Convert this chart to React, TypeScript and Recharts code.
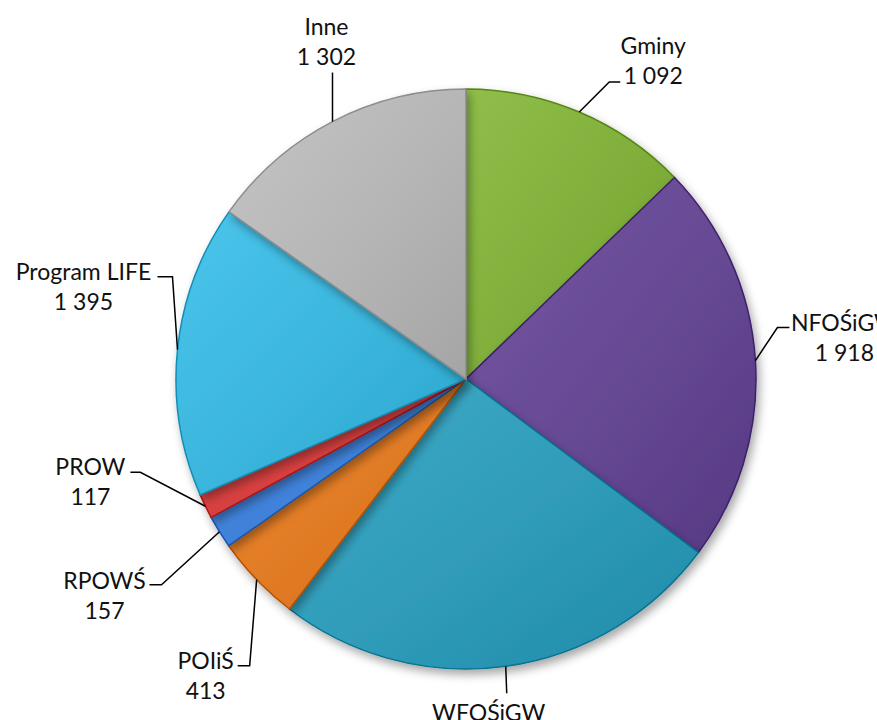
import React from "react";
import { PieChart, Pie, Cell } from "recharts";

// ── Data ──
const SOURCES = ["Gminy", "NFOŚiGW", "WFOŚiGW", "POIiŚ", "RPOWŚ", "PROW", "Program LIFE", "Inne"];
const AMOUNTS = [1092, 1918, 2156, 413, 157, 117, 1395, 1302];
const COLORS = ["#7fae3a", "#664893", "#2f9bb8", "#e07a24", "#3f80d8", "#d63f3f", "#3ab5dc", "#b5b5b5"];

// leader-line layout per slice: bend offset from slice edge, horizontal stub, text block offset from stub end
const LABEL_LAYOUT = [
  { bend: [30, -30], stub: 11, text: [33, -22] },
  { bend: [22, -33], stub: 12, text: [55, 9] },
  { bend: [1, 27], stub: 0, text: [-18, 34] },
  { bend: [-7, 86], stub: -12, text: [-32, 9] },
  { bend: [-58, 53], stub: -12, text: [-45, 10] },
  { bend: [-65, -34], stub: -10, text: [-40, 9] },
  { bend: [-5, -73], stub: -15, text: [-74, 9] },
  { bend: [0, -49], stub: 0, text: [-6, -32] },
];

const data = SOURCES.map((name, i) => ({ name, value: AMOUNTS[i] }));

const RAD = Math.PI / 180;
const FONT = "Lato, 'Open Sans', sans-serif";

function fmt(n: number) {
  return n.toString().replace(/\B(?=(\d{3})+(?!\d))/g, " ");
}

function shade(hex: string, amt: number) {
  const n = parseInt(hex.slice(1), 16);
  const ch = (v: number) => Math.max(0, Math.min(255, Math.round(v + amt)));
  const r = ch((n >> 16) & 255);
  const g = ch((n >> 8) & 255);
  const b = ch(n & 255);
  return `rgb(${r},${g},${b})`;
}

function renderLabel(props: any) {
  const { cx, cy, midAngle, outerRadius, index, name, value } = props;
  const lay = LABEL_LAYOUT[index];
  const ex = cx + outerRadius * Math.cos(-midAngle * RAD);
  const ey = cy + outerRadius * Math.sin(-midAngle * RAD);
  const bx = ex + lay.bend[0];
  const by = ey + lay.bend[1];
  const sx = bx + lay.stub;
  const tx = sx + lay.text[0];
  const ty = by + lay.text[1];
  return (
    <g key={`lbl-${index}`}>
      <polyline
        points={`${ex},${ey} ${bx},${by} ${sx},${by}`}
        fill="none"
        stroke="#000"
        strokeWidth={1.5}
      />
      <text
        x={tx}
        y={ty - 15}
        textAnchor="middle"
        dominantBaseline="central"
        fontFamily={FONT}
        fontSize={23}
        fill="#111"
      >
        {name}
      </text>
      <text
        x={tx}
        y={ty + 15}
        textAnchor="middle"
        dominantBaseline="central"
        fontFamily={FONT}
        fontSize={23}
        fill="#111"
      >
        {fmt(value)}
      </text>
    </g>
  );
}

export default function App() {
  return (
    <div style={{ position: "absolute", left: 0, top: 0, width: 877, height: 720, background: "#fff" }}>
      <PieChart width={877} height={720} margin={{ top: 0, right: 0, bottom: 0, left: 0 }}>
        <defs>
          <filter id="pieShadow" x="-20%" y="-20%" width="140%" height="140%">
            <feDropShadow dx="3" dy="5" stdDeviation="5" floodColor="#000" floodOpacity="0.35" />
          </filter>
          {COLORS.map((c, i) => (
            <linearGradient key={i} id={`grad${i}`} x1="0" y1="0" x2="1" y2="1">
              <stop offset="0%" stopColor={shade(c, 16)} />
              <stop offset="55%" stopColor={c} />
              <stop offset="100%" stopColor={shade(c, -16)} />
            </linearGradient>
          ))}
        </defs>
        <Pie
          data={data}
          dataKey="value"
          nameKey="name"
          cx={466}
          cy={379}
          outerRadius={290}
          startAngle={90}
          endAngle={-270}
          label={renderLabel}
          labelLine={false}
          isAnimationActive={false}
          style={{ filter: "url(#pieShadow)" }}
        >
          {data.map((d, i) => (
            <Cell key={d.name} fill={`url(#grad${i})`} stroke={shade(COLORS[i], -40)} strokeWidth={1.5} />
          ))}
        </Pie>
      </PieChart>
    </div>
  );
}
